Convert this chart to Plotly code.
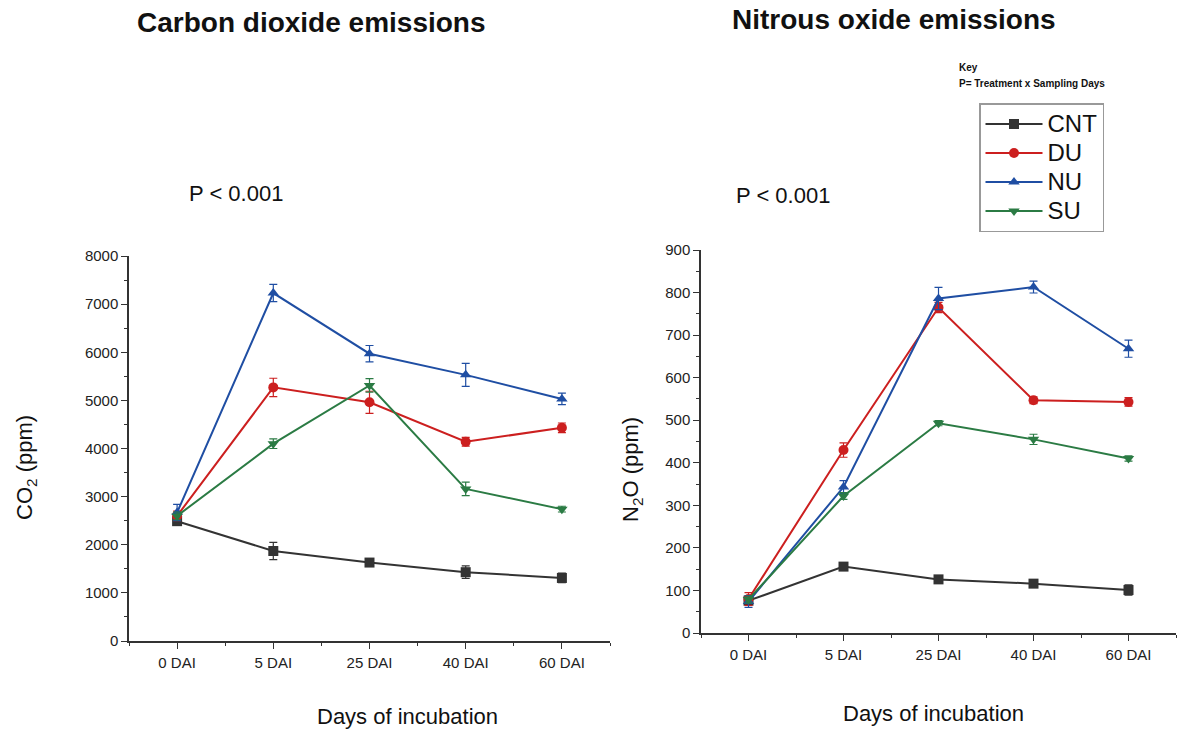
import plotly.graph_objects as go

days = ["0 DAI", "5 DAI", "25 DAI", "40 DAI", "60 DAI"]
treatments = ["CNT", "DU", "NU", "SU"]

co2 = {
    "CNT": [2490, 1870, 1630, 1430, 1310],
    "DU": [2600, 5270, 4960, 4140, 4430],
    "NU": [2670, 7230, 5970, 5530, 5030],
    "SU": [2600, 4100, 5310, 3160, 2740],
}
co2_err = {
    "CNT": [80, 180, 60, 130, 100],
    "DU": [100, 190, 230, 90, 100],
    "NU": [170, 180, 170, 240, 120],
    "SU": [80, 100, 140, 140, 60],
}
n2o = {
    "CNT": [76, 156, 126, 116, 101],
    "DU": [80, 430, 765, 547, 543],
    "NU": [74, 343, 786, 813, 668],
    "SU": [79, 322, 493, 455, 410],
}
n2o_err = {
    "CNT": [8, 9, 7, 7, 12],
    "DU": [15, 17, 12, 8, 10],
    "NU": [14, 15, 26, 14, 20],
    "SU": [8, 8, 6, 12, 6],
}

colors = {"CNT": "#333333", "DU": "#cc1f1f", "NU": "#1f4ea3", "SU": "#2b7b44"}
symbols = {"CNT": "square", "DU": "circle", "NU": "triangle-up", "SU": "triangle-down"}

FONT = "Arial, Liberation Sans, sans-serif"
xi = list(range(len(days)))
fig = go.Figure()
for t in treatments:
    fig.add_trace(go.Scatter(
        x=xi, y=co2[t], name=f"<span style='font-size:24px'>{t}</span>", mode="lines+markers",
        line=dict(color=colors[t], width=2),
        marker=dict(symbol=symbols[t], size=10, color=colors[t]),
        error_y=dict(type="data", array=co2_err[t], color=colors[t], thickness=1.2, width=4),
        xaxis="x", yaxis="y", showlegend=True, legendgroup=t,
    ))
for t in treatments:
    fig.add_trace(go.Scatter(
        x=xi, y=n2o[t], name=t, mode="lines+markers",
        line=dict(color=colors[t], width=2),
        marker=dict(symbol=symbols[t], size=10, color=colors[t]),
        error_y=dict(type="data", array=n2o_err[t], color=colors[t], thickness=1.2, width=4),
        xaxis="x2", yaxis="y2", showlegend=False, legendgroup=t,
    ))

W, H = 1177, 731
def px(x): return x / W
def py(y): return 1 - y / H

axcommon = dict(showline=True, linecolor="#333333", linewidth=1.5, ticks="outside",
                ticklen=6, tickwidth=1.3, tickcolor="#333333", showgrid=False, zeroline=False,
                automargin=False,
                tickfont=dict(family=FONT, size=15, color="#222222"))
xminor = dict(tickvals=[-0.5 + k for k in range(len(days) + 1)], ticklen=3, tickwidth=1.2,
              tickcolor="#333333", ticks="outside")

fig.update_layout(
    width=W, height=H, margin=dict(l=0, r=0, t=0, b=0, pad=0, autoexpand=False),
    paper_bgcolor="white", plot_bgcolor="white",
    xaxis=dict(domain=[px(129), px(610)], range=[-0.5, 4.5], tickmode="array", tickvals=xi,
               ticktext=days, anchor="y", minor=xminor, ticklabelstandoff=1, **axcommon),
    yaxis=dict(domain=[py(641), py(256)], range=[0, 8000], dtick=1000, anchor="x",
               minor=dict(dtick=500, ticklen=3, tickwidth=1.2, tickcolor="#333333", ticks="outside"),
               **axcommon),
    xaxis2=dict(domain=[px(701), px(1176)], range=[-0.5, 4.5], tickmode="array", tickvals=xi,
                ticktext=days, anchor="y2", minor=xminor, ticklabelstandoff=1, **axcommon),
    yaxis2=dict(domain=[py(633), py(250)], range=[0, 900], dtick=100, anchor="x2",
                minor=dict(dtick=50, ticklen=3, tickwidth=1.2, tickcolor="#333333", ticks="outside"),
                **axcommon),
    legend=dict(x=px(979), y=py(103), xanchor="left", yanchor="top",
                bordercolor="#999999", borderwidth=1.5, bgcolor="white",
                font=dict(family=FONT, size=20, color="#111111"),
                tracegroupgap=0, itemwidth=57),
    font=dict(family=FONT),
)

def ann(text, x, y, size, bold=False, angle=0, xanchor="center"):
    fig.add_annotation(text=f"<b>{text}</b>" if bold else text, x=px(x), y=py(y),
                       xref="paper", yref="paper", showarrow=False, textangle=angle,
                       xanchor=xanchor, yanchor="middle",
                       font=dict(family=FONT, size=size, color="#111111"))

ann("Carbon dioxide emissions", 311, 22, 28, bold=True)
ann("Nitrous oxide emissions", 894, 20, 28, bold=True)
ann("P < 0.001", 187, 193, 22, xanchor="left")
ann("P < 0.001", 734, 196, 22, xanchor="left")
ann("CO<sub>2</sub> (ppm)", 26, 468, 22, angle=-90)
ann("N<sub>2</sub>O (ppm)", 632, 470, 22, angle=-90)
ann("Days of incubation", 407, 716, 22)
ann("Days of incubation", 933, 713, 22)
ann("Key", 957, 68, 10, bold=True, xanchor="left")
ann("P= Treatment x Sampling Days", 957, 83, 10, bold=True, xanchor="left")

fig.write_html("out.html", post_script="document.body.style.margin='0';document.body.style.overflow='hidden';")
